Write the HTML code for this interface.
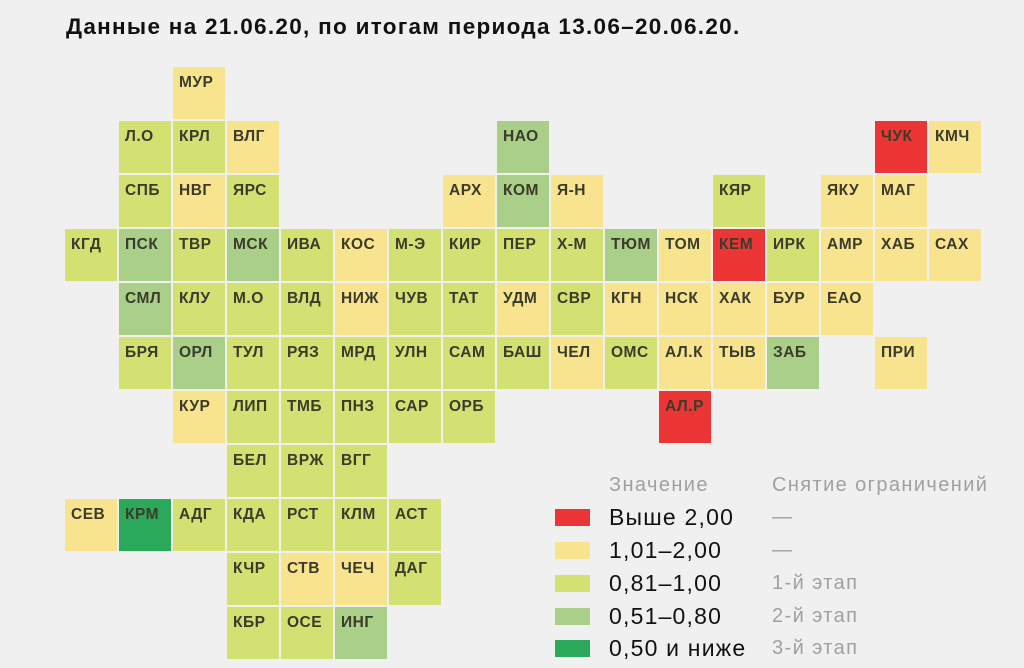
<!DOCTYPE html>
<html><head><meta charset="utf-8"><style>
body{margin:0;width:1024px;height:668px;background:#f0f0f0;overflow:hidden;font-family:"Liberation Sans","DejaVu Sans",sans-serif;position:relative}
.t{position:absolute;left:66px;top:14px;font-size:22.5px;font-weight:bold;color:#111;letter-spacing:1.3px}
.c{position:absolute;width:52px;height:52px;box-sizing:border-box;padding:7px 0 0 6px;font-size:15.5px;font-weight:bold;color:#3b3b2c;letter-spacing:0.5px}
.Y{background:#f8e48e}.G{background:#d3e072}.M{background:#aacf88}.D{background:#2aa95b}.R{background:#ec3636}
.sw{position:absolute;left:555px;width:35px;height:17px}
.lv{position:absolute;left:609px;font-size:23px;color:#111;letter-spacing:1.2px}
.ls{position:absolute;left:772px;font-size:20px;color:#a0a0a0;letter-spacing:1.4px}
.lh{position:absolute;top:474px;font-size:20px;color:#a0a0a0;letter-spacing:1.4px}
</style></head><body>
<div class="t">Данные на 21.06.20, по итогам периода 13.06–20.06.20.</div>

<div class="c Y" style="left:173px;top:67px">МУР</div>

<div class="c G" style="left:119px;top:121px">Л.О</div>
<div class="c G" style="left:173px;top:121px">КРЛ</div>
<div class="c Y" style="left:227px;top:121px">ВЛГ</div>
<div class="c M" style="left:497px;top:121px">НАО</div>
<div class="c R" style="left:875px;top:121px">ЧУК</div>
<div class="c Y" style="left:929px;top:121px">КМЧ</div>

<div class="c G" style="left:119px;top:175px">СПБ</div>
<div class="c Y" style="left:173px;top:175px">НВГ</div>
<div class="c G" style="left:227px;top:175px">ЯРС</div>
<div class="c Y" style="left:443px;top:175px">АРХ</div>
<div class="c M" style="left:497px;top:175px">КОМ</div>
<div class="c Y" style="left:551px;top:175px">Я-Н</div>
<div class="c G" style="left:713px;top:175px">КЯР</div>
<div class="c Y" style="left:821px;top:175px">ЯКУ</div>
<div class="c Y" style="left:875px;top:175px">МАГ</div>

<div class="c G" style="left:65px;top:229px">КГД</div>
<div class="c M" style="left:119px;top:229px">ПСК</div>
<div class="c G" style="left:173px;top:229px">ТВР</div>
<div class="c M" style="left:227px;top:229px">МСК</div>
<div class="c G" style="left:281px;top:229px">ИВА</div>
<div class="c Y" style="left:335px;top:229px">КОС</div>
<div class="c G" style="left:389px;top:229px">М-Э</div>
<div class="c G" style="left:443px;top:229px">КИР</div>
<div class="c G" style="left:497px;top:229px">ПЕР</div>
<div class="c G" style="left:551px;top:229px">Х-М</div>
<div class="c M" style="left:605px;top:229px">ТЮМ</div>
<div class="c Y" style="left:659px;top:229px">ТОМ</div>
<div class="c R" style="left:713px;top:229px">КЕМ</div>
<div class="c G" style="left:767px;top:229px">ИРК</div>
<div class="c Y" style="left:821px;top:229px">АМР</div>
<div class="c Y" style="left:875px;top:229px">ХАБ</div>
<div class="c Y" style="left:929px;top:229px">САХ</div>

<div class="c M" style="left:119px;top:283px">СМЛ</div>
<div class="c G" style="left:173px;top:283px">КЛУ</div>
<div class="c G" style="left:227px;top:283px">М.О</div>
<div class="c G" style="left:281px;top:283px">ВЛД</div>
<div class="c Y" style="left:335px;top:283px">НИЖ</div>
<div class="c G" style="left:389px;top:283px">ЧУВ</div>
<div class="c G" style="left:443px;top:283px">ТАТ</div>
<div class="c Y" style="left:497px;top:283px">УДМ</div>
<div class="c G" style="left:551px;top:283px">СВР</div>
<div class="c Y" style="left:605px;top:283px">КГН</div>
<div class="c Y" style="left:659px;top:283px">НСК</div>
<div class="c Y" style="left:713px;top:283px">ХАК</div>
<div class="c Y" style="left:767px;top:283px">БУР</div>
<div class="c Y" style="left:821px;top:283px">ЕАО</div>

<div class="c G" style="left:119px;top:337px">БРЯ</div>
<div class="c M" style="left:173px;top:337px">ОРЛ</div>
<div class="c G" style="left:227px;top:337px">ТУЛ</div>
<div class="c G" style="left:281px;top:337px">РЯЗ</div>
<div class="c G" style="left:335px;top:337px">МРД</div>
<div class="c G" style="left:389px;top:337px">УЛН</div>
<div class="c G" style="left:443px;top:337px">САМ</div>
<div class="c G" style="left:497px;top:337px">БАШ</div>
<div class="c Y" style="left:551px;top:337px">ЧЕЛ</div>
<div class="c G" style="left:605px;top:337px">ОМС</div>
<div class="c Y" style="left:659px;top:337px">АЛ.К</div>
<div class="c Y" style="left:713px;top:337px">ТЫВ</div>
<div class="c M" style="left:767px;top:337px">ЗАБ</div>
<div class="c Y" style="left:875px;top:337px">ПРИ</div>

<div class="c Y" style="left:173px;top:391px">КУР</div>
<div class="c G" style="left:227px;top:391px">ЛИП</div>
<div class="c G" style="left:281px;top:391px">ТМБ</div>
<div class="c G" style="left:335px;top:391px">ПНЗ</div>
<div class="c G" style="left:389px;top:391px">САР</div>
<div class="c G" style="left:443px;top:391px">ОРБ</div>
<div class="c R" style="left:659px;top:391px">АЛ.Р</div>

<div class="c G" style="left:227px;top:445px">БЕЛ</div>
<div class="c G" style="left:281px;top:445px">ВРЖ</div>
<div class="c G" style="left:335px;top:445px">ВГГ</div>

<div class="c Y" style="left:65px;top:499px">СЕВ</div>
<div class="c D" style="left:119px;top:499px">КРМ</div>
<div class="c G" style="left:173px;top:499px">АДГ</div>
<div class="c G" style="left:227px;top:499px">КДА</div>
<div class="c G" style="left:281px;top:499px">РСТ</div>
<div class="c G" style="left:335px;top:499px">КЛМ</div>
<div class="c G" style="left:389px;top:499px">АСТ</div>

<div class="c G" style="left:227px;top:553px">КЧР</div>
<div class="c Y" style="left:281px;top:553px">СТВ</div>
<div class="c Y" style="left:335px;top:553px">ЧЕЧ</div>
<div class="c G" style="left:389px;top:553px">ДАГ</div>

<div class="c G" style="left:227px;top:607px">КБР</div>
<div class="c G" style="left:281px;top:607px">ОСЕ</div>
<div class="c M" style="left:335px;top:607px">ИНГ</div>

<div class="lh" style="left:609px">Значение</div>
<div class="lh" style="left:772px">Снятие ограничений</div>

<div class="sw R" style="top:509px"></div><div class="lv" style="top:504px">Выше 2,00</div><div class="ls" style="top:506px">—</div>
<div class="sw Y" style="top:542px"></div><div class="lv" style="top:537px">1,01–2,00</div><div class="ls" style="top:539px">—</div>
<div class="sw G" style="top:575px"></div><div class="lv" style="top:570px">0,81–1,00</div><div class="ls" style="top:572px">1-й этап</div>
<div class="sw M" style="top:608px"></div><div class="lv" style="top:603px">0,51–0,80</div><div class="ls" style="top:605px">2-й этап</div>
<div class="sw D" style="top:640px"></div><div class="lv" style="top:635px">0,50 и ниже</div><div class="ls" style="top:637px">3-й этап</div>
</body></html>
